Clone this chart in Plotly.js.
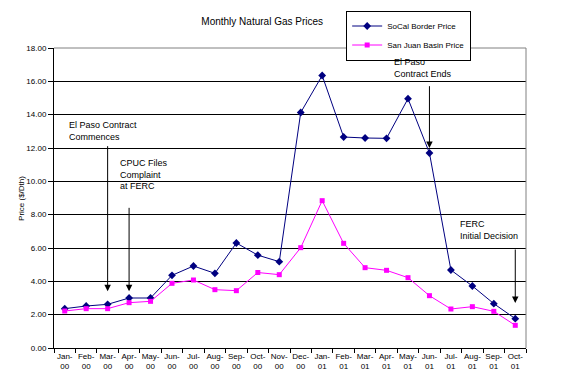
<!DOCTYPE html>
<html><head><meta charset="utf-8">
<script src="https://cdn.plot.ly/plotly-3.0.1.min.js"></script>
<style>html,body{margin:0;padding:0;background:#fff}#chart{width:570px;height:390px}</style>
</head><body><div id="chart"></div>
<script>
var months = ["Jan-<br>00","Feb-<br>00","Mar-<br>00","Apr-<br>00","May-<br>00","Jun-<br>00","Jul-<br>00","Aug-<br>00","Sep-<br>00","Oct-<br>00","Nov-<br>00","Dec-<br>00",
              "Jan-<br>01","Feb-<br>01","Mar-<br>01","Apr-<br>01","May-<br>01","Jun-<br>01","Jul-<br>01","Aug-<br>01","Sep-<br>01","Oct-<br>01"];
var socal = [2.36,2.52,2.62,3.0,3.0,4.36,4.92,4.48,6.3,5.57,5.18,14.13,16.35,12.66,12.6,12.58,14.96,11.7,4.68,3.72,2.66,1.76];
var sanjuan = [2.22,2.36,2.36,2.72,2.8,3.88,4.08,3.5,3.44,4.53,4.4,6.02,8.84,6.28,4.82,4.66,4.22,3.14,2.34,2.48,2.2,1.36];
var yTicks = [0,2,4,6,8,10,12,14,16,18];
var yTickText = ["0.00","2.00","4.00","6.00","8.00","10.00","12.00","14.00","16.00","18.00"];
// annotation events: category index, label, arrow top / bottom (price units), text left (category units) / top (price units)
var events = [
  {i:2, text:"El Paso Contract<br>Commences", top:12.2, bottom:3.4, tx:0.1, ty:13.8},
  {i:3, text:"CPUC Files<br>Complaint<br>at FERC", top:8.5, bottom:3.4, tx:2.5, ty:11.5},
  {i:17, text:"El Paso<br>Contract Ends", top:15.8, bottom:12.0, tx:15.25, ty:17.6},
  {i:21, text:"FERC<br>Initial Decision", top:6.0, bottom:2.7, tx:18.35, ty:7.85}
];

var font = {family:"Liberation Sans, Arial, sans-serif", size:9, color:"#000"};
var traces = [
  {x:months, y:socal, type:"scatter", mode:"lines+markers", name:"SoCal Border Price",
   line:{color:"#000080", width:1}, marker:{symbol:"diamond", size:6, color:"#000080"}},
  {x:months, y:sanjuan, type:"scatter", mode:"lines+markers", name:"San Juan Basin Price",
   line:{color:"#FF00FF", width:1}, marker:{symbol:"square", size:5, color:"#FF00FF"}}
];
var annotations = [];
events.forEach(function(e){
  annotations.push({x:months[e.i], y:e.bottom, ax:months[e.i], ay:e.top, axref:"x", ayref:"y",
    xref:"x", yref:"y", showarrow:true, arrowhead:2, arrowsize:1.3, arrowwidth:1, arrowcolor:"#000", text:""});
  annotations.push({x:e.tx, y:e.ty, xref:"x", yref:"y", text:e.text, showarrow:false,
    xanchor:"left", yanchor:"top", align:"left", font:font});
});
annotations.push({xref:"paper", yref:"paper", x:-0.07, y:0.5, text:"Price ($/Dth)", textangle:-90,
  showarrow:false, font:{family:font.family,size:8,color:"#000"}, xanchor:"center", yanchor:"middle"});

var layout = {
  width:570, height:390,
  margin:{l:54, r:44, t:48, b:42, autoexpand:false},
  paper_bgcolor:"#fff", plot_bgcolor:"#fff",
  font:font,
  title:{text:"Monthly Natural Gas Prices", font:{family:font.family, size:10, color:"#000"}, x:0.46, xanchor:"center", y:0.945, yanchor:"middle"},
  showlegend:true,
  legend:{x:0.619, y:1.125, xanchor:"left", yanchor:"top", bordercolor:"#000", borderwidth:1, bgcolor:"#fff",
          font:{family:font.family, size:8, color:"#000"}, tracegroupgap:0, itemwidth:30},
  xaxis:{type:"category", range:[-0.5,21.5], tickson:"boundaries", ticks:"outside", ticklen:4, tickcolor:"#000",
         showline:true, linecolor:"#000", linewidth:1, showgrid:false, tickfont:{family:font.family,size:8,color:"#000"},
         tickangle:0, fixedrange:true, zeroline:false},
  yaxis:{range:[0,18], tickvals:yTicks, ticktext:yTickText, ticks:"outside", ticklen:5, tickcolor:"#000",
         showline:true, linecolor:"#000", linewidth:1, showgrid:true, gridcolor:"#000", gridwidth:1,
         tickfont:{family:font.family,size:8,color:"#000"}, zeroline:false, fixedrange:true},
  shapes:[{type:"line", xref:"paper", yref:"paper", x0:0, x1:1, y0:1, y1:1, line:{color:"#808080", width:1}, layer:"above"},
          {type:"line", xref:"paper", yref:"paper", x0:1, x1:1, y0:0, y1:1, line:{color:"#808080", width:1}, layer:"above"}],
  annotations:annotations
};
Plotly.newPlot("chart", traces, layout, {displayModeBar:false, staticPlot:true});
</script></body></html>
